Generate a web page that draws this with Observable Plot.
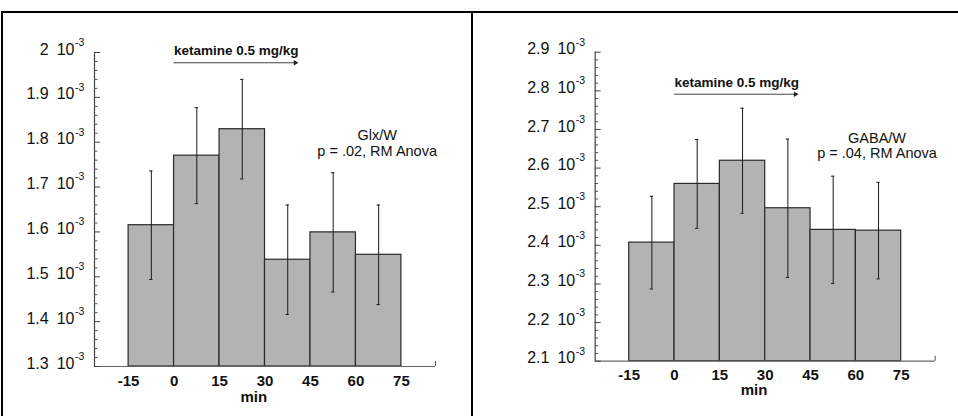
<!DOCTYPE html>
<html>
<head>
<meta charset="utf-8">
<script src="https://cdn.jsdelivr.net/npm/d3@7"></script>
<script src="https://cdn.jsdelivr.net/npm/@observablehq/plot@0.6"></script>
<style>
  html, body { margin: 0; padding: 0; background: #fff; }
  #wrap { position: relative; width: 958px; height: 416px; overflow: hidden; }
  .panel { position: absolute; top: 0; }
  .line { position: absolute; background: #000; }
</style>
</head>
<body>
<div id="wrap">
  <div class="panel" id="left" style="left:0px"></div>
  <div class="panel" id="right" style="left:479px"></div>
  <div class="line" style="left:1px; top:11px; width:957px; height:2px"></div>
  <div class="line" style="left:1px; top:11px; width:2px; height:405px"></div>
  <div class="line" style="left:471px; top:11px; width:2px; height:405px"></div>
</div>
<script>
// ---- data ----
const times = [-15, 0, 15, 30, 45, 60];          // start of each 15-min bin
const binWidth = 15;
const glx = [1.615e-3, 1.770e-3, 1.829e-3, 1.538e-3, 1.599e-3, 1.549e-3];
const glxErr = [0.121e-3, 0.107e-3, 0.111e-3, 0.122e-3, 0.133e-3, 0.111e-3];
const gaba = [2.407e-3, 2.559e-3, 2.619e-3, 2.496e-3, 2.440e-3, 2.438e-3];
const gabaErr = [0.120e-3, 0.115e-3, 0.136e-3, 0.179e-3, 0.139e-3, 0.125e-3];
const xTicks = [-15, 0, 15, 30, 45, 60, 75];
const xDomain = [-26.25, 86.25];
const glxTicks = [1.3e-3, 1.4e-3, 1.5e-3, 1.6e-3, 1.7e-3, 1.8e-3, 1.9e-3, 2.0e-3];
const gabaTicks = [2.1e-3, 2.2e-3, 2.3e-3, 2.4e-3, 2.5e-3, 2.6e-3, 2.7e-3, 2.8e-3, 2.9e-3];
const arrowText = "ketamine 0.5 mg/kg";
const arrowStart = 0, arrowEnd = 40;
const xLabel = "min";

const FONT = "'Liberation Sans', Arial, Helvetica, sans-serif";

function chart(cfg) {
  const W = 479, H = 416;
  const rows = times.map((t, i) => ({t, v: cfg.values[i], e: cfg.errs[i]}));
  const yDomain = [cfg.ticks[0], cfg.ticks[cfg.ticks.length - 1]];
  const fw = W - cfg.ml - cfg.mr, fh = H - cfg.mt - cfg.mb;
  const minors = [];
  for (let i = 0; i < cfg.ticks.length - 1; i++)
    for (let k = 1; k < 5; k++) minors.push(cfg.ticks[i] + (cfg.ticks[i + 1] - cfg.ticks[i]) * k / 5);
  const fmt = d => String(+(d * 1e3).toFixed(1)) + "\u2002" + "10";
  const capHalf = 0.55;
  return Plot.plot({
    width: W, height: H,
    marginLeft: cfg.ml, marginRight: cfg.mr, marginTop: cfg.mt, marginBottom: cfg.mb,
    style: {fontFamily: FONT, background: "transparent", overflow: "visible", color: "#000"},
    x: {type: "linear", domain: xDomain, axis: null},
    y: {type: "linear", domain: yDomain, axis: null},
    marks: [
      Plot.rect(rows, {x1: "t", x2: d => d.t + binWidth, y1: () => yDomain[0], y2: "v",
        fill: "#b3b3b3", stroke: "#2a2a2a", strokeWidth: 1.2}),
      // error bars
      Plot.ruleX(rows, {x: d => d.t + binWidth / 2, y1: d => d.v - d.e, y2: d => d.v + d.e, stroke: "#1a1a1a", strokeWidth: 1}),
      Plot.ruleY(rows, {y: d => d.v + d.e, x1: d => d.t + binWidth / 2 - capHalf, x2: d => d.t + binWidth / 2 + capHalf, stroke: "#1a1a1a", strokeWidth: 1}),
      Plot.ruleY(rows, {y: d => d.v - d.e, x1: d => d.t + binWidth / 2 - capHalf, x2: d => d.t + binWidth / 2 + capHalf, stroke: "#1a1a1a", strokeWidth: 1}),
      // axes lines
      Plot.ruleX([xDomain[0]], {x: d => d, stroke: "#444", strokeWidth: 1.2}),
      Plot.ruleY([yDomain[0]], {y: d => d, stroke: "#666", strokeWidth: 1.2}),
      Plot.ruleX([xDomain[1]], {x: d => d, insetTop: fh - 5, stroke: "#555"}),
      Plot.ruleY(cfg.ticks, {y: d => d, insetRight: fw - 6, stroke: "#444"}),
      Plot.ruleY(minors, {y: d => d, insetRight: fw - 3.5, stroke: "#555"}),
      // y tick labels with superscript exponent
      Plot.text(cfg.ticks, {y: d => d, text: fmt, frameAnchor: "left", textAnchor: "end",
        dx: -20, dy: -3, fontSize: 16, fill: "#111"}),
      Plot.text(cfg.ticks, {y: d => d, text: () => "-3", frameAnchor: "left", textAnchor: "start",
        dx: -19.5, dy: -10, fontSize: 10.5, fill: "#111"}),
      // x tick labels
      Plot.text(xTicks, {x: d => d, text: d => String(d), frameAnchor: "bottom", dy: 19,
        fontSize: 15, fontWeight: "bold", fill: "#111"}),
      Plot.text([xLabel], {x: () => 26.3, text: d => d, frameAnchor: "bottom", dy: cfg.minDy,
        fontSize: 15, fontWeight: "bold", fill: "#111"}),
      // ketamine arrow
      Plot.text([arrowText], {x: () => arrowStart, y: () => cfg.textY, text: d => d, textAnchor: "start",
        fontSize: 13.5, fontWeight: "bold", fill: "#111"}),
      Plot.ruleY([cfg.arrowY], {y: d => d, x1: () => arrowStart, x2: () => arrowEnd, stroke: "#444", strokeWidth: 1}),
      Plot.dot([arrowEnd], {x: d => d, y: () => cfg.arrowY, symbol: "triangle", rotate: 90, r: 2, fill: "#222", stroke: null}),
      // annotation
      Plot.text([cfg.label + "\n" + cfg.pText], {x: () => 67, y: () => cfg.annoY, text: d => d,
        fontSize: 14.5, lineHeight: 1.06, fill: "#111"})
    ]
  });
}

document.getElementById("left").appendChild(chart({
  values: glx, errs: glxErr, ticks: glxTicks,
  ml: 94, mr: 44, mt: 52, mb: 50,
  textY: 2.0045e-3, arrowY: 1.9771e-3, annoY: 1.7984e-3, minDy: 35,
  label: "Glx/W", pText: "p = .02, RM Anova"
}));
document.getElementById("right").appendChild(chart({
  values: gaba, errs: gabaErr, ticks: gabaTicks,
  ml: 115.7, mr: 23.3, mt: 51.7, mb: 55.3,
  textY: 2.8223e-3, arrowY: 2.7912e-3, annoY: 2.659e-3, minDy: 34,
  label: "GABA/W", pText: "p = .04, RM Anova"
}));
</script>
</body>
</html>
